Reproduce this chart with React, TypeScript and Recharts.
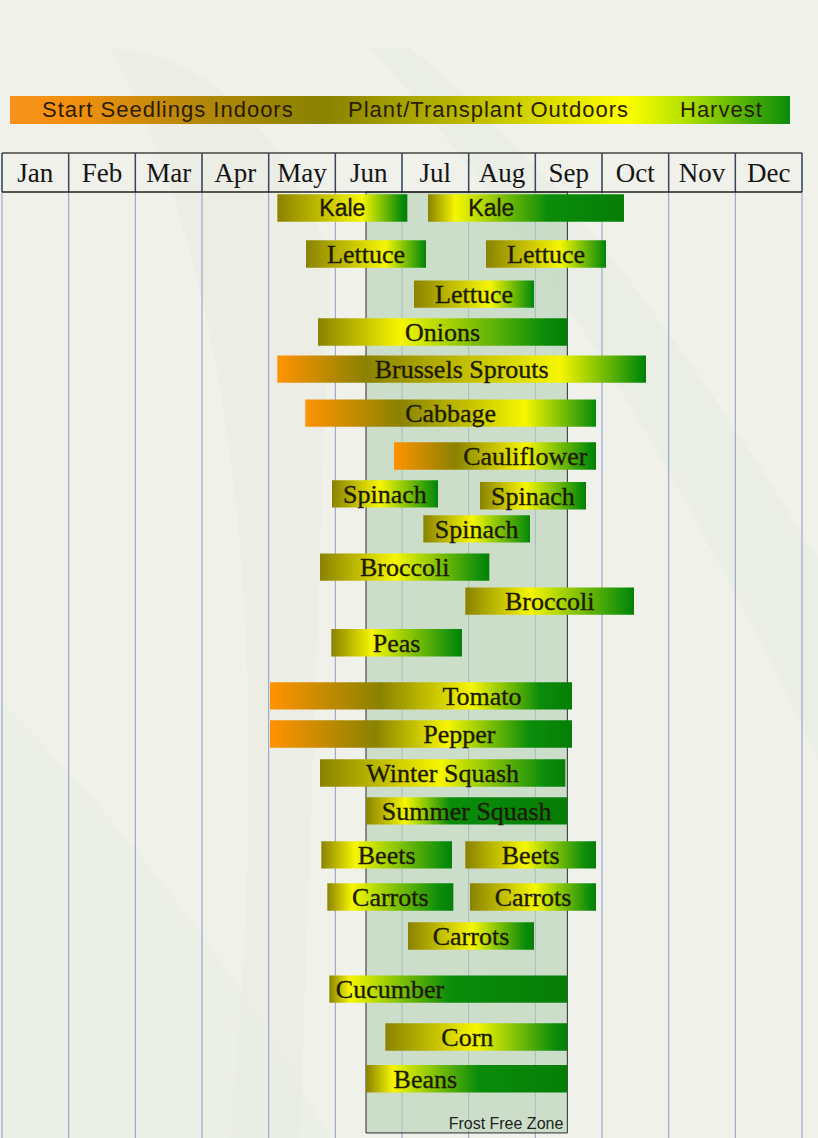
import { ComposedChart, XAxis, YAxis, CartesianGrid, ReferenceArea, ReferenceLine, Scatter } from "recharts";

// month edges (0 = Jan 1, 12 = Dec 31) and header labels
const months = ["Jan", "Feb", "Mar", "Apr", "May", "Jun", "Jul", "Aug", "Sep", "Oct", "Nov", "Dec"];
const monthEdges = [0, 1, 2, 3, 4, 5, 6, 7, 8, 9, 10, 11, 12];

// one entry per bar; rows are lanes counted down from the header
const crops = ["Kale", "Kale", "Lettuce", "Lettuce", "Lettuce", "Onions", "Brussels Sprouts", "Cabbage", "Cauliflower",
    "Spinach", "Spinach", "Spinach", "Broccoli", "Broccoli", "Peas", "Tomato", "Pepper", "Winter Squash", "Summer Squash",
    "Beets", "Beets", "Carrots", "Carrots", "Carrots", "Cucumber", "Corn", "Beans"];
const rows = [0.41, 0.41, 1.59, 1.59, 2.62, 3.59, 4.54, 5.67, 6.77, 7.74, 7.79, 8.64, 9.62, 10.49, 11.56, 12.92, 13.9,
    14.9, 15.87, 17.0, 17.0, 18.08, 18.08, 19.08, 20.44, 21.67, 22.74];
const starts = [4.13, 6.39, 4.56, 7.26, 6.18, 4.74, 4.13, 4.55, 5.88, 4.95, 7.17, 6.32, 4.77, 6.95, 4.94, 4.02, 4.02,
    4.77, 5.46, 4.79, 6.95, 4.88, 7.02, 6.09, 4.91, 5.75, 5.46];
const ends = [6.08, 9.33, 6.36, 9.06, 7.98, 8.48, 9.66, 8.91, 8.91, 6.54, 8.76, 7.92, 7.31, 9.48, 6.9, 8.55, 8.55,
    8.45, 8.48, 6.75, 8.91, 6.77, 8.91, 7.98, 8.48, 8.48, 8.48];
// transplant date (end of indoor seedling phase), null when sown outdoors
const transplant = [null, null, null, null, null, null, 5.45, 5.97, 6.8, null, null, null, null, null, null, 5.67, 5.6,
    null, null, null, null, null, null, null, null, null, null];
const peakGrowth = [5.4, 6.8, 5.75, 8.37, 7.32, 5.97, 8.37, 7.85, 7.85, 5.67, 7.85, 7.05, 5.9, 7.92, 5.55, 7.05, 6.68,
    6.57, 6.05, 5.3, 7.85, 5.25, 8.0, 7.05, 5.22, 7.11, 5.87];
const harvestFrom = [6.0, 8.19, 6.33, 9.03, 7.95, 8.15, 9.57, 8.9, 8.82, 6.5, 8.7, 7.89, 7.2, 9.39, 6.8, 8.07, 7.92,
    8.15, 6.72, 6.65, 8.75, 6.57, 8.82, 7.85, 6.72, 8.3, 7.14];
const labelAt = [null, 7.34, null, null, null, null, null, null, 7.85, null, null, null, null, null, null, 7.2, 6.86,
    null, null, null, null, null, null, null, 5.82, 6.98, 6.35];

const frostFree = [5.46, 8.48];
const frostRows = [0, 24.13];

const ORANGE = "#ff9300";
const OLIVE = "#8a8200";
const YELLOW = "#f6f600";
const GREEN = "#0a8c0a";
const DARK_GREEN = "#067e06";

const barHalf = 0.35;

const frac = (i: number, m: number) => Math.max(0, Math.min(1, (m - starts[i]) / (ends[i] - starts[i])));

const labels = crops.map((name, i) => ({
    x: labelAt[i] ?? (starts[i] + ends[i]) / 2,
    y: rows[i],
    name,
    sans: name === "Kale",
}));

const LabelShape = (p: any) => (
    <text
        x={p.cx}
        y={p.cy}
        dy={p.payload.sans ? 8 : 9}
        textAnchor="middle"
        fill="#1c1a00"
        stroke="#1c1a00"
        strokeWidth={0.35}
        fontSize={p.payload.sans ? 23 : 26}
        fontFamily={p.payload.sans ? "'Liberation Sans', Arial, sans-serif" : "'Liberation Serif', 'Times New Roman', serif"}
    >
        {p.payload.name}
    </text>
);

export default function App() {
    return (
        <div style={{ position: "absolute", left: 0, top: 0, width: 818, height: 1138, background: "#eff1ea", overflow: "hidden", fontFamily: "'Liberation Sans', Arial, sans-serif" }}>
            <svg width={818} height={1138} style={{ position: "absolute", left: 0, top: 0 }}>
                <path d="M110 48 Q 260 60 330 260 L 300 1138 L 230 1138 Q 300 400 110 48 Z" fill="#e9ece2" opacity={0.45} />
                <path d="M370 48 L 410 48 Q 600 200 818 560 L 818 760 Q 600 300 370 48 Z" fill="#e8ebe1" opacity={0.5} />
                <path d="M0 700 Q 200 900 330 1138 L 0 1138 Z" fill="#e6eadc" opacity={0.35} />
            </svg>
            <div style={{
                position: "absolute", left: 10, top: 96, width: 780, height: 28,
                background: `linear-gradient(to right, #f7931c 0%, #f2900e 8%, #b4880a 24%, ${OLIVE} 40%, #c4c400 62%, #ffff00 79%, #b8e400 86%, ${GREEN} 100%)`,
                color: "#2a1c00", fontSize: 22, lineHeight: "28px", letterSpacing: 1,
            }}>
                <span style={{ position: "absolute", left: 32 }}>Start Seedlings Indoors</span>
                <span style={{ position: "absolute", left: 338 }}>Plant/Transplant Outdoors</span>
                <span style={{ position: "absolute", left: 670 }}>Harvest</span>
            </div>
            <div style={{ position: "absolute", left: 0, top: 0 }}>
                <ComposedChart width={818} height={1138} margin={{ top: 153, right: 16, bottom: 0, left: 2 }}>
                    <defs>
                        {crops.map((_, i) => (
                            <linearGradient key={i} id={`g${i}`} x1="0" y1="0" x2="1" y2="0">
                                {transplant[i] !== null ? (
                                    <>
                                        <stop offset={0} stopColor={ORANGE} />
                                        <stop offset={frac(i, transplant[i] as number)} stopColor={OLIVE} />
                                    </>
                                ) : (
                                    <stop offset={0} stopColor={OLIVE} />
                                )}
                                <stop offset={frac(i, peakGrowth[i])} stopColor={YELLOW} />
                                <stop offset={frac(i, harvestFrom[i])} stopColor={GREEN} />
                                <stop offset={1} stopColor={DARK_GREEN} />
                            </linearGradient>
                        ))}
                    </defs>
                    <XAxis type="number" dataKey="x" domain={[0, 12]} ticks={monthEdges} hide allowDataOverflow />
                    <YAxis type="number" dataKey="y" domain={[-1, 24.26]} reversed hide allowDataOverflow />
                    <CartesianGrid horizontal={false} stroke="#8e9cc8" strokeWidth={1} />
                    <ReferenceArea
                        x1={frostFree[0]} x2={frostFree[1]} y1={frostRows[0]} y2={frostRows[1]}
                        fill="#b4d2b4" fillOpacity={0.6} stroke="#2a2a2a" strokeWidth={1}
                        label={{ value: "Frost Free Zone", position: "insideBottomRight", offset: 4, fill: "#222", fontSize: 16, fontFamily: "'Liberation Sans', Arial, sans-serif" }}
                    />
                    {monthEdges.map((m) => (
                        <ReferenceLine key={`hd${m}`} segment={[{ x: m, y: -1 }, { x: m, y: 0 }]} stroke="#3c4a5c" strokeWidth={1.5} />
                    ))}
                    <ReferenceLine y={-1} stroke="#444" strokeWidth={1.5} />
                    <ReferenceLine y={0} stroke="#222" strokeWidth={1.5} />
                    {months.map((m, i) => (
                        <ReferenceArea
                            key={m} x1={monthEdges[i]} x2={monthEdges[i + 1]} y1={-1} y2={0}
                            fill="none" fillOpacity={0} stroke="none"
                            label={{ value: m, position: "center", fill: "#151515", fontSize: 27, fontFamily: "'Liberation Serif', 'Times New Roman', serif" }}
                        />
                    ))}
                    {crops.map((c, i) => (
                        <ReferenceArea
                            key={`b${i}`} x1={starts[i]} x2={ends[i]} y1={rows[i] - barHalf} y2={rows[i] + barHalf}
                            fill={`url(#g${i})`} fillOpacity={1} stroke="none"
                        />
                    ))}
                    <Scatter data={labels} dataKey="y" shape={LabelShape} isAnimationActive={false} />
                </ComposedChart>
            </div>
        </div>
    );
}
